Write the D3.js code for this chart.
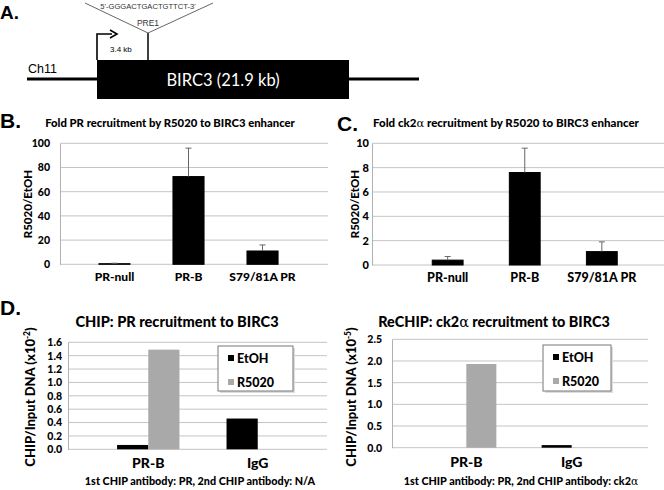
<!DOCTYPE html>
<html lang="en">
<head>
<meta charset="UTF-8">
<title>BIRC3 PR / ck2α recruitment</title>
<script src="https://d3js.org/d3.v7.min.js"></script>
<style>
  body { margin: 0; background: #fff; }
  svg { display: block; }
  .lbl { font-family: Lato, "Open Sans", sans-serif; font-weight: 900; fill: #000; }
  .grid line { stroke: #c4c4c4; stroke-width: 1; }
</style>
</head>
<body>
<svg width="664" height="490"></svg>
<script>
// panel B / C data
const constructs = ["PR-null", "PR-B", "S79/81A PR"];
const prFold = [0.5, 72.5, 11];
const prErr = [0.4, 23.5, 5];
const ck2Fold = [0.4, 7.6, 1.1];
const ck2Err = [0.3, 2.0, 0.8];
const bTicks = [0, 20, 40, 60, 80, 100];
const cTicks = [0, 2, 4, 6, 8, 10];

// panel D data
const antibodies = ["PR-B", "IgG"];
const treatments = ["EtOH", "R5020"];
const chipEtOH = [0.065, 0.46];
const chipR5020 = [1.49, 0];
const rechipEtOH = [0, 0.06];
const rechipR5020 = [1.93, 0];
const chipTicks = [0, 0.2, 0.4, 0.6, 0.8, 1.0, 1.2, 1.4, 1.6];
const rechipTicks = [0, 0.5, 1.0, 1.5, 2.0, 2.5];

const svg = d3.select("svg");
const treatColor = d3.scaleOrdinal().domain(treatments).range(["#000000", "#a9a9a9"]);

// ---------- panel A : gene diagram ----------
const A = svg.append("g");
A.append("text").attr("x", 0).attr("y", 19).attr("font-family", "Liberation Sans, Arial")
  .attr("font-weight", "bold").attr("font-size", 19).text("A.");
A.append("line").attr("x1", 27).attr("x2", 419).attr("y1", 79).attr("y2", 79)
  .attr("stroke", "#000").attr("stroke-width", 3);
A.append("rect").attr("x", 97).attr("y", 60).attr("width", 252).attr("height", 39).attr("fill", "#000");
A.append("text").attr("x", 223).attr("y", 86).attr("text-anchor", "middle")
  .attr("font-family", "Lato, sans-serif").attr("font-size", 16.5).attr("fill", "#fff").text("BIRC3 (21.9 kb)");
A.append("text").attr("x", 28).attr("y", 73).attr("font-family", "Liberation Sans, Arial")
  .attr("font-size", 12.5).text("Ch11");
// transcription start arrow
A.append("path").attr("d", "M97,60 V34 H112").attr("fill", "none").attr("stroke", "#000").attr("stroke-width", 1.6);
A.append("path").attr("d", "M110,30 L117,34 L110,38").attr("fill", "none").attr("stroke", "#000").attr("stroke-width", 1.6);
A.append("text").attr("x", 110).attr("y", 52).attr("font-family", "Liberation Sans, Arial")
  .attr("font-size", 8).text("3.4 kb");
// PRE1 site
A.append("line").attr("x1", 148).attr("x2", 148).attr("y1", 33).attr("y2", 60)
  .attr("stroke", "#000").attr("stroke-width", 1.5);
A.append("path").attr("d", "M85,3 L148,33 L213,3").attr("fill", "none").attr("stroke", "#555").attr("stroke-width", 0.9);
A.append("text").attr("x", 148).attr("y", 9).attr("text-anchor", "middle")
  .attr("font-family", "Liberation Sans, Arial").attr("font-size", 7.6).attr("fill", "#333")
  .text("5'-GGGACTGACTGTTCT-3'");
A.append("text").attr("x", 148).attr("y", 26).attr("text-anchor", "middle")
  .attr("font-family", "Liberation Sans, Arial").attr("font-size", 8.5).attr("fill", "#333").text("PRE1");

// panel letters
[["B.", 0, 128], ["C.", 337, 131], ["D.", 0, 315]].forEach(p => {
  svg.append("text").attr("x", p[1]).attr("y", p[2]).attr("font-family", "Liberation Sans, Arial")
    .attr("font-weight", "bold").attr("font-size", 21).text(p[0]);
});

// ---------- generic bar panel ----------
function panel(o) {
  const g = svg.append("g");
  const x = d3.scaleBand().domain(o.cats).range(o.xr).padding(o.pad);
  const y = d3.scaleLinear().domain([0, d3.max(o.ticks)]).range(o.yr);

  // gridlines
  g.append("g").attr("class", "grid").selectAll("line").data(o.ticks).join("line")
    .attr("x1", o.gx[0]).attr("x2", o.gx[1]).attr("y1", d => y(d)).attr("y2", d => y(d));

  // y axis
  const ya = g.append("g").attr("transform", `translate(${o.gx[0]},0)`)
    .call(d3.axisLeft(y).tickValues(o.ticks).tickSize(0).tickPadding(o.tpad).tickFormat(o.fmt));
  ya.select(".domain").attr("stroke", "#b0b0b0");
  ya.selectAll("text").attr("class", "lbl").attr("font-size", o.tfs);

  // bars
  if (o.series) {
    const inner = d3.scaleBand().domain(treatments).range([0, x.bandwidth()]);
    o.series.forEach((vals, si) => {
      g.selectAll(null).data(vals).join("rect")
        .attr("x", (d, i) => x(o.cats[i]) + inner(treatments[si]))
        .attr("width", inner.bandwidth())
        .attr("y", d => y(d)).attr("height", d => y(0) - y(d))
        .attr("fill", treatColor(treatments[si]));
    });
  } else {
    g.selectAll(null).data(o.vals).join("rect")
      .attr("x", (d, i) => x(o.cats[i])).attr("width", x.bandwidth())
      .attr("y", d => y(d)).attr("height", d => y(0) - y(d))
      .attr("fill", "#000").attr("stroke", "#000");
    // positive error bars
    const eb = g.selectAll(null).data(o.vals).join("g").attr("stroke", "#666").attr("stroke-width", 1);
    eb.append("line")
      .attr("x1", (d, i) => x(o.cats[i]) + x.bandwidth() / 2).attr("x2", (d, i) => x(o.cats[i]) + x.bandwidth() / 2)
      .attr("y1", d => y(d)).attr("y2", (d, i) => y(d + o.err[i]));
    eb.append("line")
      .attr("x1", (d, i) => x(o.cats[i]) + x.bandwidth() / 2 - 3).attr("x2", (d, i) => x(o.cats[i]) + x.bandwidth() / 2 + 3)
      .attr("y1", (d, i) => y(d + o.err[i])).attr("y2", (d, i) => y(d + o.err[i]));
  }

  // category axis
  const xa = g.append("g").attr("transform", `translate(0,${y(0)})`)
    .call(d3.axisBottom(x).tickSize(0).tickPadding(o.cpad));
  xa.select(".domain").remove();
  xa.selectAll("text").attr("class", "lbl").attr("font-size", o.cfs);

  // title
  const t = g.append("text").attr("class", "lbl").attr("x", o.title[1]).attr("y", o.title[2])
    .attr("text-anchor", "middle").attr("font-size", o.title[3]);
  o.title[0].forEach((s, i) => t.append("tspan").attr("font-family", i % 2 ? "DejaVu Serif, serif" : null)
    .attr("font-weight", i % 2 ? "normal" : null).text(s));

  // y title
  const yt = g.append("text").attr("class", "lbl")
    .attr("transform", `translate(${o.ytitle[1]},${o.ytitle[2]}) rotate(-90)`)
    .attr("text-anchor", "middle").attr("font-size", o.ytitle[3]);
  yt.append("tspan").text(o.ytitle[0]);
  if (o.ytitle[4]) {
    yt.append("tspan").attr("font-size", o.ytitle[3] * 0.65).attr("dy", -5).text(o.ytitle[4]);
    yt.append("tspan").attr("dy", 5).text(")");
  }

  // legend
  if (o.legend) {
    const [lx, ly, lw, lh] = o.legend;
    const lg = g.append("g");
    lg.append("rect").attr("x", lx + 2).attr("y", ly + 2).attr("width", lw).attr("height", lh).attr("fill", "#ddd");
    lg.append("rect").attr("x", lx).attr("y", ly).attr("width", lw).attr("height", lh)
      .attr("fill", "#fff").attr("stroke", "#777");
    treatments.forEach((tr, i) => {
      lg.append("rect").attr("x", lx + 10).attr("y", ly + 9 + i * 24).attr("width", 6).attr("height", 6)
        .attr("fill", treatColor(tr));
      lg.append("text").attr("class", "lbl").attr("x", lx + 19).attr("y", ly + 16.5 + i * 24)
        .attr("font-size", 12.5).text(tr);
    });
  }

  // subtitle
  if (o.sub) {
    const s = g.append("text").attr("class", "lbl").attr("x", o.sub[1]).attr("y", o.sub[2])
      .attr("text-anchor", "middle").attr("font-size", 10.8);
    o.sub[0].forEach((p, i) => s.append("tspan").attr("font-family", i % 2 ? "DejaVu Serif, serif" : null)
      .attr("font-weight", i % 2 ? "normal" : null).text(p));
  }
}

// B
panel({
  cats: constructs, vals: prFold, err: prErr, ticks: bTicks, fmt: d3.format("d"),
  xr: [56, 321], yr: [264.3, 143.3], gx: [60, 328], pad: 0.58, tpad: 10, tfs: 10.5, cpad: 8, cfs: 12,
  title: [["Fold PR recruitment by R5020 to BIRC3 enhancer"], 170, 127, 11.3],
  ytitle: ["R5020/EtOH", 32, 204, 11.5]
});

// C
panel({
  cats: constructs, vals: ck2Fold, err: ck2Err, ticks: cTicks, fmt: d3.format("d"),
  xr: [386, 663.5], yr: [265, 143.3], gx: [372, 664], pad: 0.6, tpad: 3, tfs: 11, cpad: 8, cfs: 12.5,
  title: [["Fold ck2", "α", " recruitment by R5020 to BIRC3 enhancer"], 506, 127, 11.5],
  ytitle: ["R5020/EtOH", 359, 204, 11.5]
});

// D left
panel({
  cats: antibodies, series: [chipEtOH, chipR5020], ticks: chipTicks, fmt: d3.format(".1f"),
  xr: [70, 336], yr: [449.3, 342.3], gx: [68, 327], pad: 0.43, tpad: 6, tfs: 10.5, cpad: 9, cfs: 14,
  title: [["CHIP: PR recruitment to BIRC3"], 177, 327, 14.6],
  ytitle: ["CHIP/Input DNA (x10", 35, 397, 13, "-2"],
  legend: [218, 346, 75, 45],
  sub: [["1st CHIP antibody:  PR, 2nd CHIP antibody:  N/A"], 200, 485]
});

// D right
panel({
  cats: antibodies, series: [rechipEtOH, rechipR5020], ticks: rechipTicks, fmt: d3.format(".1f"),
  xr: [391, 647], yr: [447.7, 339.3], gx: [392, 648], pad: 0.43, tpad: 10, tfs: 10.5, cpad: 9, cfs: 14,
  title: [["ReCHIP: ck2", "α", " recruitment to BIRC3"], 494, 327, 14.4],
  ytitle: ["CHIP/Input DNA (x10", 356, 397, 13, "-5"],
  legend: [543, 345, 68, 46],
  sub: [["1st CHIP antibody:  PR, 2nd CHIP antibody:  ck2", "α"], 521, 485]
});
</script>
</body>
</html>
